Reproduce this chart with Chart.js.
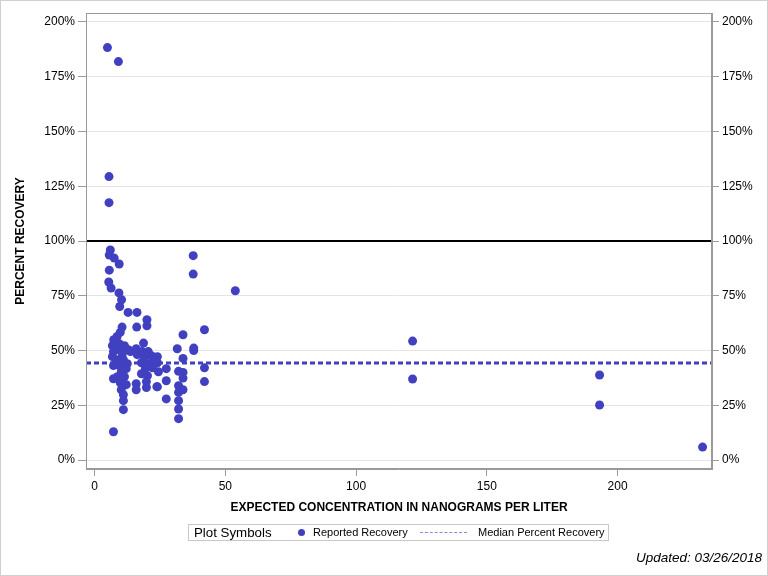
<!DOCTYPE html>
<html>
<head>
<meta charset="utf-8">
<script src="https://cdn.jsdelivr.net/npm/chart.js@4/dist/chart.umd.min.js"></script>
<style>
  html, body { margin: 0; padding: 0; background: #fff; }
  #wrap { position: relative; width: 768px; height: 576px; overflow: hidden; font-family: "Liberation Sans", Arial, sans-serif; }
  #c { position: absolute; left: 0; top: 0; }
  #border { position: absolute; left: 0; top: 0; width: 768px; height: 576px; box-sizing: border-box; border: 1px solid #d0d0d0; pointer-events: none; }
  #legend { position: absolute; left: 188px; top: 524px; width: 421px; height: 17px; border: 1px solid #c8c8c8; box-sizing: border-box; font-size: 11px; color: #000; }
  #legend span { position: absolute; top: 0px; line-height: 15px; white-space: nowrap; }
  #legend .hdr { left: 5px; font-size: 13.3px; }
  #legend .dot { left: 109px; top: 4px; width: 7px; height: 7px; border-radius: 50%; background: rgb(64,64,192); }
  #legend .dash { left: 231px; top: 7px; width: 47px; height: 0; border-top: 1px dashed #8888dd; }
  #legend .t1 { left: 124px; }
  #legend .t2 { left: 289px; }
  #note { position: absolute; right: 6px; top: 550px; font-size: 13.5px; font-style: italic; color: #000; }
</style>
</head>
<body>
<div id="wrap">
  <canvas id="c" width="768" height="576"></canvas>
  <div id="legend">
    <span class="hdr">Plot Symbols</span>
    <span class="dot"></span>
    <span class="t1">Reported Recovery</span>
    <span class="dash"></span>
    <span class="t2">Median Percent Recovery</span>
  </div>
  <div id="note">Updated: 03/26/2018</div>
  <div id="border"></div>
</div>
<script>
// ---- Data ----
const expectedConc = [
  4.9, 9.1, 5.5, 5.5,
  6.0, 5.6, 7.5, 9.4, 5.6, 5.4, 6.3, 9.3, 10.3, 9.6,
  12.8, 16.2, 20.0, 20.0, 16.1, 10.5, 9.8, 8.6, 7.3, 18.7,
  6.8, 9.4, 11.4, 12.9, 7.2, 9.1, 10.6, 13.7, 15.9, 16.3,
  18.2, 20.5, 21.7, 19.0, 6.8, 8.7, 11.0, 12.5, 7.2, 9.4,
  12.1, 17.9, 20.2, 22.4, 19.4, 22.1, 24.0, 24.4, 17.9, 20.2,
  10.2, 11.4, 8.7, 9.8, 12.1, 10.2, 11.0, 11.0, 11.0, 7.2,
  7.2, 15.9, 15.9, 19.8, 19.8, 24.0, 27.4, 27.4, 27.4, 24.0,
  37.7, 37.7, 53.8, 42.0, 33.8, 31.6, 37.9, 37.9, 33.8, 42.0,
  42.0, 32.1, 33.8, 33.8, 32.1, 33.8, 32.1, 32.1, 32.1, 32.1,
  23.8, 121.6, 121.6, 193.1, 193.1, 232.5
];
const percentRecovery = [
  188.3, 181.9, 129.4, 117.5,
  95.9, 93.6, 92.2, 89.5, 86.7, 81.3, 78.5, 76.3, 73.2, 70.1,
  67.4, 67.4, 64.1, 61.3, 60.7, 60.7, 58.3, 56.4, 54.9, 53.4,
  52.2, 53.1, 52.2, 50.4, 49.5, 50.4, 48.5, 49.5, 50.8, 48.1,
  49.5, 49.5, 47.6, 46.7, 47.2, 45.8, 45.8, 44.0, 43.1, 43.1,
  41.7, 44.4, 44.0, 44.9, 41.7, 42.1, 44.4, 40.3, 39.4, 38.5,
  40.3, 38.0, 38.0, 35.3, 34.4, 32.1, 29.8, 27.1, 23.0, 37.1,
  12.9, 34.8, 32.1, 35.8, 33.1, 33.4, 41.7, 36.2, 27.9, 47.2,
  93.3, 84.9, 77.3, 59.5, 57.2, 50.8, 51.1, 50.0, 46.4, 42.1,
  35.8, 40.5, 40.0, 37.4, 33.9, 32.1, 30.9, 27.1, 23.3, 18.9,
  33.5, 54.3, 37.0, 38.8, 25.1, 5.9
];
const medianRecovery = 44.3;
const referenceRecovery = 100;
const xTickValues = [0, 50, 100, 150, 200];
const yTickValues = [0, 25, 50, 75, 100, 125, 150, 175, 200];
const xBounds = [-3.3, 236.1];
const yBounds = [-4.1, 204.1];

const blue = 'rgb(64,64,192)';
const fontFamily = '"Liberation Sans", Arial, sans-serif';

const points = expectedConc.map((x, i) => ({ x: x, y: percentRecovery[i] }));
const medianLine = xBounds.map(x => ({ x: x, y: medianRecovery }));
const refLine = xBounds.map(x => ({ x: x, y: referenceRecovery }));

const framePlugin = {
  id: 'frame',
  afterDatasetsDraw(chart) {
    const { ctx, chartArea: a } = chart;
    ctx.save();
    ctx.strokeStyle = '#9a9a9a';
    ctx.lineWidth = 1;
    ctx.strokeRect(Math.round(a.left) + 0.5, Math.round(a.top) + 0.5, Math.round(a.right - a.left) - 1, Math.round(a.bottom - a.top) - 1);
    ctx.restore();
  }
};

const setTicks = (vals) => (scale) => { scale.ticks = vals.map(v => ({ value: v })); };

new Chart(document.getElementById('c'), {
  type: 'scatter',
  data: {
    datasets: [
      {
        label: 'Reported Recovery',
        data: points,
        backgroundColor: blue,
        borderColor: blue,
        borderWidth: 0,
        pointRadius: 4.5,
        pointHoverRadius: 4.5,
        order: 0
      },
      {
        type: 'line',
        label: 'Median Percent Recovery',
        data: medianLine,
        borderColor: blue,
        borderWidth: 3,
        borderDash: [5, 3],
        pointRadius: 0,
        fill: false,
        order: 1
      },
      {
        type: 'line',
        label: 'Reference',
        data: refLine,
        borderColor: '#000',
        borderWidth: 2,
        pointRadius: 0,
        fill: false,
        order: 2
      }
    ]
  },
  options: {
    responsive: false,
    animation: false,
    events: [],
    layout: { padding: { top: 13, left: 0, right: 0, bottom: 0 } },
    plugins: { legend: { display: false }, tooltip: { enabled: false } },
    scales: {
      x: {
        type: 'linear',
        min: xBounds[0], max: xBounds[1],
        afterBuildTicks: setTicks(xTickValues),
        afterFit: (s) => { s.height = 107; },
        grid: { drawOnChartArea: false, drawTicks: true, tickLength: 7, tickColor: '#9a9a9a' },
        border: { display: true, color: '#9a9a9a' },
        ticks: { color: '#000', font: { family: fontFamily, size: 12 }, padding: 3, maxRotation: 0 },
        title: { display: true, text: 'EXPECTED CONCENTRATION IN NANOGRAMS PER LITER', color: '#000',
                 font: { family: fontFamily, size: 12, weight: 'bold' }, padding: { top: 0, bottom: 61 } }
      },
      y: {
        type: 'linear', position: 'left',
        min: yBounds[0], max: yBounds[1],
        afterBuildTicks: setTicks(yTickValues),
        afterFit: (s) => { s.width = 86; },
        grid: { color: '#e4e4e4', drawTicks: true, tickLength: 8, tickColor: '#9a9a9a' },
        border: { display: true, color: '#9a9a9a' },
        ticks: { color: '#000', font: { family: fontFamily, size: 12 }, padding: 3, callback: v => v + '%' },
        title: { display: true, text: 'PERCENT RECOVERY', color: '#000',
                 font: { family: fontFamily, size: 12, weight: 'bold' }, padding: { top: 13, bottom: 0 } }
      },
      y2: {
        type: 'linear', position: 'right',
        min: yBounds[0], max: yBounds[1],
        afterBuildTicks: setTicks(yTickValues),
        afterFit: (s) => { s.width = 56; },
        grid: { drawOnChartArea: false, drawTicks: true, tickLength: 7, tickColor: '#9a9a9a' },
        border: { display: true, color: '#9a9a9a' },
        ticks: { color: '#000', font: { family: fontFamily, size: 12 }, padding: 3, callback: v => v + '%' }
      }
    }
  },
  plugins: [framePlugin]
});
</script>
</body>
</html>
